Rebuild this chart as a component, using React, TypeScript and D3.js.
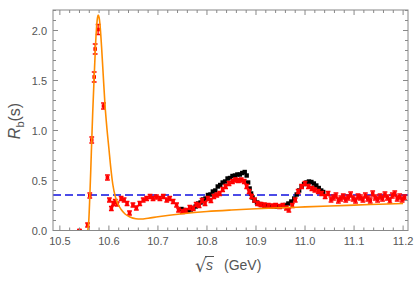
import React from "react";
import * as d3 from "d3";

const W = 419, H = 283;
const M = { left: 53, right: 408, top: 10, bottom: 230.5 };

const xDomain = [10.486, 11.21];
const yDomain = [0, 2.205];
const xTicks = [10.5, 10.6, 10.7, 10.8, 10.9, 11.0, 11.1, 11.2];
const xTickLabels = ["10.5", "10.6", "10.7", "10.8", "10.9", "11.0", "11.1", "11.2"];
const yTicks = [0, 0.5, 1.0, 1.5, 2.0];
const yTickLabels = ["0.0", "0.5", "1.0", "1.5", "2.0"];
const blueLevel = 0.355;

// model curve (orange)
const curveS = [10.557, 10.559, 10.561, 10.563, 10.565, 10.567, 10.570, 10.573, 10.576, 10.578, 10.580, 10.582, 10.585, 10.588, 10.592, 10.596, 10.600, 10.604, 10.608, 10.613, 10.618, 10.625, 10.633, 10.643, 10.655, 10.665, 10.68, 10.70, 10.75, 10.80, 10.85, 10.90, 10.95, 11.00, 11.05, 11.10, 11.15, 11.20];
const curveV = [0.0, 0.10, 0.33, 0.60, 0.90, 1.18, 1.54, 1.88, 2.10, 2.155, 2.13, 2.05, 1.84, 1.59, 1.26, 1.02, 0.82, 0.62, 0.46, 0.34, 0.27, 0.21, 0.165, 0.135, 0.118, 0.115, 0.123, 0.138, 0.168, 0.19, 0.205, 0.217, 0.227, 0.236, 0.245, 0.254, 0.262, 0.27];

// red data points with errors
const redS = [10.540, 10.5565, 10.561, 10.565, 10.570, 10.572, 10.578, 10.589, 10.597, 10.601, 10.605, 10.609, 10.613, 10.617, 10.625, 10.631, 10.637, 10.642, 10.649, 10.656, 10.663, 10.670, 10.677, 10.684, 10.690, 10.697, 10.704, 10.711, 10.718, 10.724, 10.731, 10.738, 10.742, 10.750, 10.757, 10.765, 10.772, 10.778, 10.784, 10.790, 10.796, 10.802, 10.808, 10.814, 10.820, 10.826, 10.832, 10.838, 10.845, 10.852, 10.858, 10.864, 10.870, 10.876, 10.881, 10.886, 10.891, 10.897, 10.903, 10.910, 10.917, 10.925, 10.933, 10.940, 10.948, 10.955, 10.962, 10.967, 10.974, 10.980, 10.986, 10.993, 11.000, 11.007, 11.014, 11.020, 11.027, 11.034, 11.041, 11.047, 11.053, 11.058, 11.063, 11.068, 11.073, 11.078, 11.083, 11.088, 11.093, 11.098, 11.103, 11.108, 11.113, 11.118, 11.123, 11.128, 11.133, 11.138, 11.143, 11.148, 11.153, 11.158, 11.163, 11.168, 11.173, 11.178, 11.183, 11.188, 11.193, 11.198, 11.203];
const redV = [0.0, 0.055, 0.35, 0.905, 1.535, 1.815, 2.01, 1.245, 0.53, 0.305, 0.22, 0.27, 0.29, 0.265, 0.32, 0.305, 0.27, 0.175, 0.255, 0.225, 0.27, 0.305, 0.32, 0.34, 0.32, 0.335, 0.32, 0.34, 0.305, 0.32, 0.29, 0.255, 0.205, 0.19, 0.20, 0.23, 0.22, 0.26, 0.25, 0.30, 0.27, 0.32, 0.30, 0.34, 0.355, 0.37, 0.41, 0.44, 0.47, 0.49, 0.505, 0.50, 0.505, 0.49, 0.44, 0.39, 0.34, 0.305, 0.27, 0.26, 0.255, 0.25, 0.245, 0.25, 0.24, 0.25, 0.225, 0.205, 0.25, 0.305, 0.39, 0.44, 0.47, 0.44, 0.42, 0.405, 0.39, 0.37, 0.34, 0.37, 0.31, 0.33, 0.35, 0.30, 0.32, 0.34, 0.31, 0.33, 0.36, 0.32, 0.30, 0.34, 0.33, 0.31, 0.35, 0.32, 0.30, 0.37, 0.33, 0.31, 0.34, 0.32, 0.36, 0.33, 0.30, 0.35, 0.37, 0.32, 0.34, 0.31, 0.33];
const redErr = [0.01, 0.02, 0.025, 0.03, 0.05, 0.05, 0.05, 0.03, 0.025, 0.02, 0.02, 0.02, 0.02, 0.02, 0.02, 0.02, 0.02, 0.02, 0.02, 0.02, 0.02, 0.02, 0.02, 0.02, 0.02, 0.02, 0.02, 0.02, 0.02, 0.02, 0.02, 0.02, 0.02, 0.02, 0.02, 0.02, 0.02, 0.02, 0.02, 0.02, 0.02, 0.02, 0.02, 0.02, 0.02, 0.02, 0.02, 0.02, 0.02, 0.02, 0.02, 0.02, 0.02, 0.02, 0.02, 0.02, 0.02, 0.02, 0.02, 0.02, 0.02, 0.02, 0.02, 0.02, 0.02, 0.02, 0.02, 0.02, 0.02, 0.02, 0.02, 0.02, 0.02, 0.02, 0.02, 0.02, 0.02, 0.02, 0.02, 0.02, 0.025, 0.025, 0.025, 0.025, 0.025, 0.025, 0.025, 0.025, 0.025, 0.025, 0.025, 0.025, 0.025, 0.025, 0.025, 0.025, 0.025, 0.025, 0.025, 0.025, 0.025, 0.025, 0.025, 0.025, 0.025, 0.025, 0.025, 0.025, 0.025, 0.025, 0.025];

// black data points
const blackS = [10.748, 10.752, 10.757, 10.762, 10.767, 10.772, 10.777, 10.782, 10.787, 10.792, 10.797, 10.802, 10.807, 10.812, 10.817, 10.822, 10.827, 10.832, 10.837, 10.842, 10.847, 10.852, 10.857, 10.862, 10.867, 10.872, 10.877, 10.881, 10.884, 10.887, 10.890, 10.893, 10.897, 10.902, 10.907, 10.912, 10.918, 10.924, 10.930, 10.936, 10.942, 10.948, 10.954, 10.960, 10.966, 10.972, 10.978, 10.983, 10.988, 10.993, 10.998, 11.003, 11.008, 11.013, 11.018, 11.023, 11.028, 11.033, 11.037];
const blackV = [0.215, 0.205, 0.195, 0.20, 0.21, 0.225, 0.24, 0.27, 0.28, 0.31, 0.32, 0.355, 0.36, 0.39, 0.40, 0.44, 0.455, 0.48, 0.49, 0.52, 0.525, 0.545, 0.55, 0.56, 0.56, 0.575, 0.585, 0.55, 0.48, 0.42, 0.37, 0.33, 0.30, 0.28, 0.265, 0.255, 0.25, 0.245, 0.24, 0.24, 0.238, 0.24, 0.245, 0.255, 0.27, 0.29, 0.32, 0.36, 0.40, 0.44, 0.465, 0.48, 0.49, 0.485, 0.47, 0.45, 0.425, 0.40, 0.385];

const frameColor = "#888";
const textColor = "#555";
const font = "'Liberation Sans', Arial, sans-serif";

export default function App() {
  const x = d3.scaleLinear().domain(xDomain).range([M.left, M.right]);
  const y = d3.scaleLinear().domain(yDomain).range([M.bottom, M.top]);

  const xMinor = d3.range(10.5, 11.2001, 0.02);
  const yMinor = d3.range(0, 2.2001, 0.1);

  const line = d3
    .line<number>()
    .x((_, i) => x(curveS[i]))
    .y((_, i) => y(curveV[i]))
    .curve(d3.curveMonotoneX);

  const ticks: React.ReactNode[] = [];
  xMinor.forEach((t, i) => {
    const isMajor = Math.abs(Math.round(t * 10) - t * 10) < 1e-6;
    const len = isMajor ? 5 : 3;
    ticks.push(<line key={"xb" + i} x1={x(t)} x2={x(t)} y1={M.bottom} y2={M.bottom - len} stroke={frameColor} strokeWidth={1} />);
    ticks.push(<line key={"xt" + i} x1={x(t)} x2={x(t)} y1={M.top} y2={M.top + len} stroke={frameColor} strokeWidth={1} />);
  });
  yMinor.forEach((t, i) => {
    const isMajor = Math.abs(Math.round(t * 2) - t * 2) < 1e-6;
    const len = isMajor ? 5 : 3;
    ticks.push(<line key={"yl" + i} x1={M.left} x2={M.left + len} y1={y(t)} y2={y(t)} stroke={frameColor} strokeWidth={1} />);
    ticks.push(<line key={"yr" + i} x1={M.right} x2={M.right - len} y1={y(t)} y2={y(t)} stroke={frameColor} strokeWidth={1} />);
  });

  return (
    <svg width={W} height={H} style={{ position: "absolute", left: 0, top: 0, background: "#fff" }} fontFamily={font}>
      <defs>
        <clipPath id="plotclip">
          <rect x={M.left} y={M.top} width={M.right - M.left} height={M.bottom - M.top} />
        </clipPath>
      </defs>
      <g clipPath="url(#plotclip)">
        <line x1={M.left} x2={M.right} y1={y(blueLevel)} y2={y(blueLevel)} stroke="#1010e0" strokeWidth={1.7} strokeDasharray="8,4" />
        {blackS.map((s, i) => (
          <rect key={"b" + i} x={x(s) - 2.2} y={y(blackV[i]) - 2.2} width={4.4} height={4.4} fill="#000" />
        ))}
        {redS.map((s, i) => {
          const cx = x(s), cy = y(redV[i]);
          const y1 = y(redV[i] + redErr[i]), y2 = y(redV[i] - redErr[i]);
          return (
            <g key={"r" + i} stroke="#ff0000" strokeWidth={1.3}>
              <line x1={cx} x2={cx} y1={y1} y2={y2} />
              <line x1={cx - 2.4} x2={cx + 2.4} y1={y1} y2={y1} />
              <line x1={cx - 2.4} x2={cx + 2.4} y1={y2} y2={y2} />
              <rect x={cx - 1.8} y={cy - 1.8} width={3.6} height={3.6} fill="#ff0000" stroke="none" />
            </g>
          );
        })}
        <path d={line(curveS) || ""} fill="none" stroke="#ff8c00" strokeWidth={1.6} />
      </g>
      <rect x={M.left} y={M.top} width={M.right - M.left} height={M.bottom - M.top} fill="none" stroke={frameColor} strokeWidth={1} />
      {ticks}
      {xTicks.map((t, i) => (
        <text key={"xl" + i} x={x(t)} y={245} textAnchor="middle" fontSize={11} fill={textColor}>
          {xTickLabels[i]}
        </text>
      ))}
      {yTicks.map((t, i) => (
        <text key={"yl" + i} x={47} y={y(t) + 4} textAnchor="end" fontSize={11} fill={textColor}>
          {yTickLabels[i]}
        </text>
      ))}
      <text transform="translate(20,121) rotate(-90)" textAnchor="middle" fontSize={16} fill={textColor}>
        <tspan fontStyle="italic">R</tspan>
        <tspan fontSize={11} dy={4}>b</tspan>
        <tspan dy={-4}>(s)</tspan>
      </text>
      <g fill={textColor}>
        <text x={195} y={272} fontSize={18} fontFamily="'DejaVu Sans', sans-serif">√</text>
        <text x={206} y={270} fontSize={14} fontStyle="italic">s</text>
        <line x1={205} x2={214} y1={256.5} y2={256.5} stroke={textColor} strokeWidth={1} />
        <text x={224} y={270} fontSize={14}>(GeV)</text>
      </g>
    </svg>
  );
}
